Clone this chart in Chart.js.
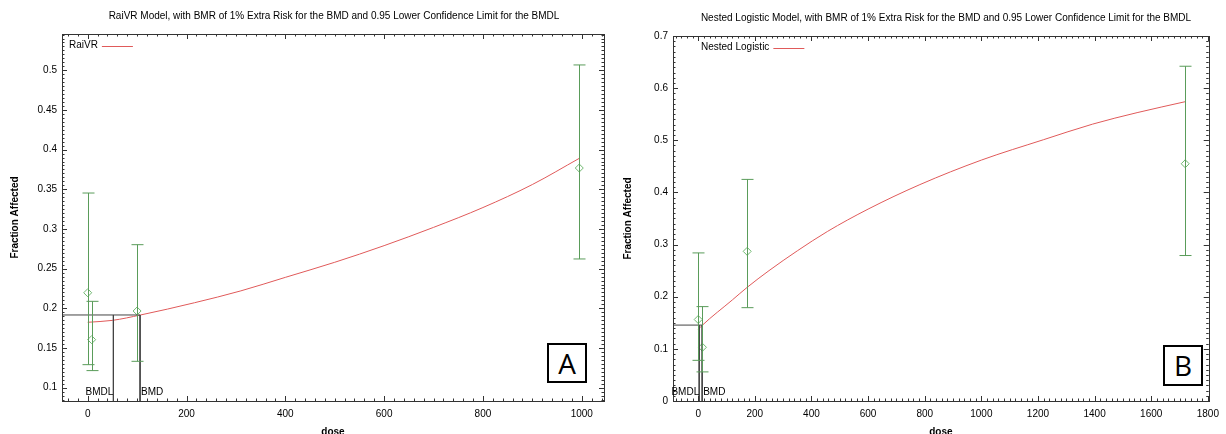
<!DOCTYPE html>
<html>
<head>
<meta charset="utf-8">
<script src="https://cdn.jsdelivr.net/npm/chart.js@4.4.1/dist/chart.umd.min.js"></script>
<style>
  html, body { margin: 0; padding: 0; background: #fff; }
  body { width: 1226px; height: 434px; position: relative; overflow: hidden; font-family: "Liberation Sans", Arial, sans-serif; }
  canvas { position: absolute; top: 0; }
  #chartA { left: 0; }
  #chartB { left: 613px; }
  .title { position: absolute; font-size: 10px; line-height: 12px; white-space: nowrap; transform: translateX(-50%); color: #000; }
  .tag { position: absolute; box-sizing: border-box; width: 40px; height: 40px; border: 2px solid #000; background: #fff;
         font-family: "Open Sans", "Liberation Sans", sans-serif; font-size: 28px; line-height: 36px; text-align: center; color: #000; }
</style>
</head>
<body>
<canvas id="chartA" width="613" height="434"></canvas>
<canvas id="chartB" width="613" height="434"></canvas>
<div class="title" style="left:334px; top:10px">RaiVR Model, with BMR of 1% Extra Risk for the BMD and 0.95 Lower Confidence Limit for the BMDL</div>
<div class="title" style="left:946px; top:12px">Nested Logistic Model, with BMR of 1% Extra Risk for the BMD and 0.95 Lower Confidence Limit for the BMDL</div>
<div class="tag" style="left:547px; top:343px">A</div>
<div class="tag" style="left:1163px; top:345px; height:41px">B</div>
<script>
// ---- panel A (RaiVR) ----
const doseA = [0, 8, 100, 995];
const fracA = [0.2196, 0.1605, 0.1966, 0.3768];
const lowA = [0.129, 0.1215, 0.1332, 0.2622];
const highA = [0.3453, 0.2088, 0.2802, 0.5067];
const curveDoseA = [0, 50, 107, 216, 310, 400, 500, 600, 700, 800, 900, 995];
const curveFracA = [0.1824, 0.1848, 0.1916, 0.207, 0.222, 0.239, 0.258, 0.279, 0.302, 0.327, 0.356, 0.389];
const bmdA = 106, bmdlA = 52, bmrA = 0.1916;
const xTicksA = [0, 200, 400, 600, 800, 1000];
const yTicksA = [0.1, 0.15, 0.2, 0.25, 0.3, 0.35, 0.4, 0.45, 0.5];

// ---- panel B (Nested Logistic) ----
const doseB = [0, 15, 173, 1720];
const fracB = [0.1563, 0.103, 0.287, 0.455];
const lowB = [0.078, 0.0558, 0.179, 0.279];
const highB = [0.284, 0.181, 0.425, 0.642];
const curveDoseB = [0, 14, 121, 173, 250, 350, 456, 600, 783, 1000, 1219, 1393, 1550, 1720];
const curveFracB = [0.137, 0.145, 0.194, 0.218, 0.25, 0.288, 0.325, 0.368, 0.415, 0.462, 0.501, 0.531, 0.553, 0.574];
const bmdB = 14, bmdlB = 3.5, bmrB = 0.1456;
const xTicksB = [0, 200, 400, 600, 800, 1000, 1200, 1400, 1600, 1800];
const yTicksB = [0, 0.1, 0.2, 0.3, 0.4, 0.5, 0.6, 0.7];

const RED = "#e05a5a";
const GREEN = "#5a9c5a";
const GREEN_PT = "#70b870";
const FONT = "Liberation Sans";

const zip = (xs, ys) => xs.map((x, i) => ({ x, y: ys[i] }));

function makePanel(id, p) {
  // error bars, frame with inward ticks, legend and BMD labels
  const overlay = {
    id: "overlay_" + id,
    afterDatasetsDraw(chart) {
      const { ctx, scales: { x, y } } = chart;
      ctx.save();
      ctx.strokeStyle = GREEN;
      ctx.lineWidth = 1;
      p.dose.forEach((d, i) => {
        const px = Math.round(x.getPixelForValue(d)) + 0.5;
        const lo = y.getPixelForValue(p.low[i]);
        const hi = y.getPixelForValue(p.high[i]);
        ctx.beginPath();
        ctx.moveTo(px, lo); ctx.lineTo(px, hi);
        ctx.moveTo(px - 6, lo); ctx.lineTo(px + 6, lo);
        ctx.moveTo(px - 6, hi); ctx.lineTo(px + 6, hi);
        ctx.stroke();
      });
      ctx.restore();
    },
    afterDraw(chart) {
      const { ctx, chartArea: a, scales: { x, y } } = chart;
      ctx.save();
      ctx.strokeStyle = "#333";
      ctx.lineWidth = 1;
      ctx.strokeRect(Math.round(a.left) + 0.5, Math.round(a.top) + 0.5, Math.round(a.right - a.left), Math.round(a.bottom - a.top));
      const tick = (v, axis, len) => {
        ctx.beginPath();
        if (axis === "x") {
          const px = Math.round(x.getPixelForValue(v)) + 0.5;
          ctx.moveTo(px, a.bottom); ctx.lineTo(px, a.bottom - len);
          ctx.moveTo(px, a.top); ctx.lineTo(px, a.top + len);
        } else {
          const py = Math.round(y.getPixelForValue(v)) + 0.5;
          ctx.moveTo(a.left, py); ctx.lineTo(a.left + len, py);
          ctx.moveTo(a.right, py); ctx.lineTo(a.right - len, py);
        }
        ctx.stroke();
      };
      for (let v = Math.ceil(p.xMin / p.xMinor) * p.xMinor; v <= p.xMax; v += p.xMinor) tick(v, "x", 2.5);
      for (let k = Math.ceil(p.yMin / p.yMinor); k * p.yMinor <= p.yMax + 1e-9; k++) tick(k * p.yMinor, "y", 2.5);
      p.xTicks.forEach(v => tick(v, "x", 5));
      p.yTicks.forEach(v => tick(v, "y", 5));

      // legend
      ctx.font = "10px '" + FONT + "'";
      ctx.fillStyle = "#000";
      ctx.textBaseline = "middle";
      ctx.textAlign = "left";
      const lx = a.left + p.legendDx, ly = a.top + 11.5;
      ctx.fillText(p.label, lx, ly);
      const w = ctx.measureText(p.label).width;
      ctx.strokeStyle = RED;
      ctx.beginPath();
      ctx.moveTo(lx + w + 4, Math.round(ly) + 0.5);
      ctx.lineTo(lx + w + 35, Math.round(ly) + 0.5);
      ctx.stroke();

      // BMD labels
      const ty = a.bottom - 9;
      ctx.textAlign = "right";
      ctx.fillText("BMDL", x.getPixelForValue(p.bmdl), ty);
      ctx.textAlign = "left";
      ctx.fillText("BMD", x.getPixelForValue(p.bmd) + 1, ty);
      ctx.restore();
    }
  };

  const line = (data, color) => ({
    data, showLine: true, borderColor: color, borderWidth: 1, pointRadius: 0, fill: false
  });

  return new Chart(document.getElementById(id), {
    type: "scatter",
    data: {
      datasets: [
        line([{ x: p.xMin, y: p.bmr }, { x: p.bmd, y: p.bmr }], "#444"),
        line([{ x: p.bmdl, y: p.bmr }, { x: p.bmdl, y: p.yMin }], "#444"),
        line([{ x: p.bmd, y: p.bmr }, { x: p.bmd, y: p.yMin }], "#444"),
        Object.assign(line(zip(p.curveDose, p.curveFrac), RED), { cubicInterpolationMode: "monotone" }),
        {
          data: zip(p.dose, p.frac), pointStyle: "rectRot", pointRadius: 4,
          borderColor: GREEN_PT, backgroundColor: "rgba(0,0,0,0)", pointBorderWidth: 1
        }
      ]
    },
    options: {
      responsive: false,
      animation: false,
      events: [],
      layout: { padding: { left: 0, right: p.padRight, top: p.top, bottom: 0 }, autoPadding: false },
      plugins: { legend: { display: false }, tooltip: { enabled: false } },
      scales: {
        x: {
          type: "linear", min: p.xMin, max: p.xMax,
          grid: { display: false, drawTicks: false }, border: { display: false },
          afterBuildTicks: s => { s.ticks = p.xTicks.map(v => ({ value: v })); },
          afterFit: s => { s.height = 33; },
          ticks: { autoSkip: false, maxRotation: 0, padding: 7, color: "#000", font: { family: FONT, size: 10 }, callback: v => String(v) },
          title: { display: true, text: "dose", color: "#000", font: { family: FONT, size: 10, weight: "bold" }, padding: { top: 0, bottom: -4 } }
        },
        y: {
          type: "linear", min: p.yMin, max: p.yMax,
          grid: { display: false, drawTicks: false }, border: { display: false },
          afterBuildTicks: s => { s.ticks = p.yTicks.map(v => ({ value: v })); },
          afterFit: s => { s.width = p.yWidth; },
          ticks: { autoSkip: false, padding: 5, color: "#000", font: { family: FONT, size: 10 }, callback: v => String(v) },
          title: { display: true, text: "Fraction Affected", color: "#000", font: { family: FONT, size: 10, weight: "bold" }, padding: { top: 9.5, bottom: 0 } }
        }
      }
    },
    plugins: [overlay]
  });
}

makePanel("chartA", {
  dose: doseA, frac: fracA, low: lowA, high: highA,
  curveDose: curveDoseA, curveFrac: curveFracA,
  bmd: bmdA, bmdl: bmdlA, bmr: bmrA,
  xTicks: xTicksA, yTicks: yTicksA,
  xMin: -52, xMax: 1045, yMin: 0.0832, yMax: 0.5457,
  xMinor: 20, yMinor: 0.005,
  yWidth: 62, padRight: 9, top: 34,
  label: "RaiVR", legendDx: 7
});

makePanel("chartB", {
  dose: doseB, frac: fracB, low: lowB, high: highB,
  curveDose: curveDoseB, curveFrac: curveFracB,
  bmd: bmdB, bmdl: bmdlB, bmr: bmrB,
  xTicks: xTicksB, yTicks: yTicksB,
  xMin: -89, xMax: 1803, yMin: 0, yMax: 0.7,
  xMinor: 20, yMinor: 0.01,
  yWidth: 60, padRight: 7, top: 36,
  label: "Nested Logistic", legendDx: 28
});
</script>
</body>
</html>
